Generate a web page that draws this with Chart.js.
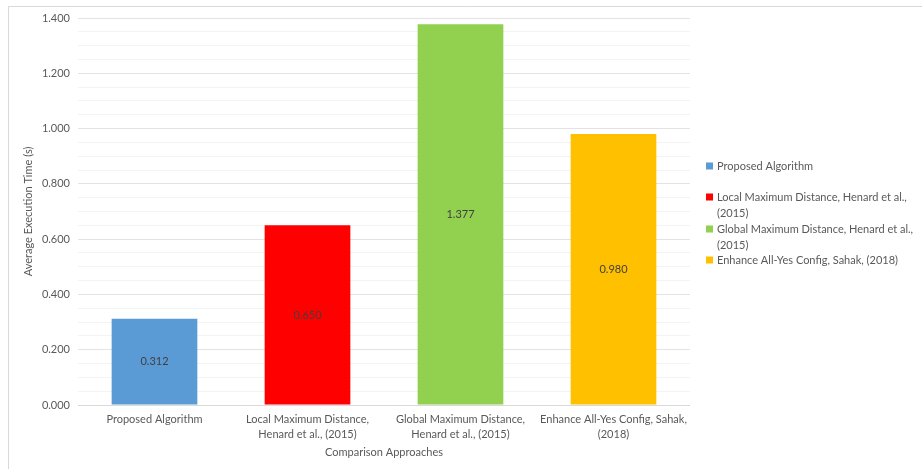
<!DOCTYPE html>
<html>
<head>
<meta charset="utf-8">
<script src="https://cdn.jsdelivr.net/npm/chart.js@4.4.1/dist/chart.umd.min.js"></script>
<style>
html,body{margin:0;padding:0;background:#fff;}
#wrap{position:relative;width:922px;height:469px;}
</style>
</head>
<body>
<div id="wrap"><canvas id="c" width="922" height="469"></canvas></div>
<script>
const categories = [
  ["Proposed Algorithm"],
  ["Local Maximum Distance,", "Henard et al., (2015)"],
  ["Global Maximum Distance,", "Henard et al., (2015)"],
  ["Enhance All-Yes Config, Sahak,", "(2018)"]
];
const legendLabels = [
  ["Proposed Algorithm"],
  ["Local Maximum Distance, Henard et al.,", "(2015)"],
  ["Global Maximum Distance, Henard et al.,", "(2015)"],
  ["Enhance All-Yes Config, Sahak, (2018)"]
];
const values = [0.312, 0.650, 1.377, 0.980];
const colors = ["#5b9bd5", "#ff0000", "#92d050", "#ffc000"];
const yTitle = "Average Execution Time (s)";
const xTitle = "Comparison Approaches";

const FONT = "Lato";
const TXT = "#595959";

const framePlugin = {
  id: 'frame',
  beforeDraw(chart) {
    const ctx = chart.ctx;
    ctx.save();
    ctx.fillStyle = '#fff';
    ctx.fillRect(0, 0, chart.width, chart.height);
    ctx.strokeStyle = '#d9d9d9';
    ctx.lineWidth = 1;
    ctx.beginPath();
    ctx.moveTo(8.5, 469);
    ctx.lineTo(8.5, 6.5);
    ctx.lineTo(922, 6.5);
    ctx.stroke();
    ctx.restore();
  }
};

const labelPlugin = {
  id: 'barLabels',
  afterDatasetsDraw(chart) {
    const ctx = chart.ctx;
    const meta = chart.getDatasetMeta(0);
    const ys = chart.scales.y;
    ctx.save();
    ctx.font = "11px " + FONT;
    ctx.fillStyle = "#404040";
    ctx.textAlign = "center";
    ctx.textBaseline = "middle";
    meta.data.forEach((bar, i) => {
      const v = values[i];
      const yMid = (ys.getPixelForValue(v) + ys.getPixelForValue(0)) / 2;
      ctx.fillText(v.toFixed(3), bar.x, yMid);
    });
    ctx.restore();
  }
};

const legendPlugin = {
  id: 'sideLegend',
  afterDraw(chart) {
    const ctx = chart.ctx;
    ctx.save();
    ctx.font = "11px " + FONT;
    ctx.textBaseline = "middle";
    ctx.textAlign = "left";
    const starts = [166, 197, 229, 260];
    legendLabels.forEach((lines, i) => {
      const y0 = starts[i];
      ctx.fillStyle = colors[i];
      ctx.fillRect(706, y0 - 3.5, 7, 7);
      ctx.fillStyle = TXT;
      lines.forEach((t, j) => ctx.fillText(t, 717, y0 + j * 16));
    });
    ctx.restore();
  }
};

function isMajor(v) {
  const r = v / 0.2;
  return Math.abs(r - Math.round(r)) < 1e-6;
}

new Chart(document.getElementById('c'), {
  type: 'bar',
  data: {
    labels: categories,
    datasets: [{
      data: values,
      backgroundColor: colors,
      borderWidth: 0,
      barPercentage: 0.56,
      categoryPercentage: 1.0
    }]
  },
  options: {
    responsive: false,
    animation: false,
    devicePixelRatio: 1,
    layout: { padding: { left: 0, right: 232, top: 18, bottom: 0 } },
    plugins: { legend: { display: false }, tooltip: { enabled: false } },
    scales: {
      y: {
        min: 0, max: 1.4,
        border: { display: false },
        ticks: {
          stepSize: 0.05,
          autoSkip: false,
          color: TXT,
          font: { family: FONT, size: 11 },
          padding: 8,
          callback: (v) => isMajor(v) ? Number(v).toFixed(3) : ''
        },
        grid: {
          drawTicks: false,
          color: (c) => c.tick && isMajor(c.tick.value) ? (c.tick.value === 0 ? '#d9d9d9' : '#e3e3e3') : '#f3f3f3',
          lineWidth: 1
        },
        title: {
          display: true, text: yTitle, color: TXT,
          font: { family: FONT, size: 11 }, padding: { top: 22, bottom: 4 }
        },
        afterFit: (s) => { s.width = 78; }
      },
      x: {
        border: { display: false },
        grid: { display: false, drawTicks: false },
        ticks: {
          color: TXT, font: { family: FONT, size: 11, lineHeight: 1.45 },
          maxRotation: 0, autoSkip: false, padding: 6
        },
        title: {
          display: true, text: xTitle, color: TXT,
          font: { family: FONT, size: 11 }, padding: { top: 2, bottom: 10 }
        },
        afterFit: (s) => { s.height = 64; }
      }
    }
  },
  plugins: [framePlugin, labelPlugin, legendPlugin]
});
</script>
</body>
</html>
